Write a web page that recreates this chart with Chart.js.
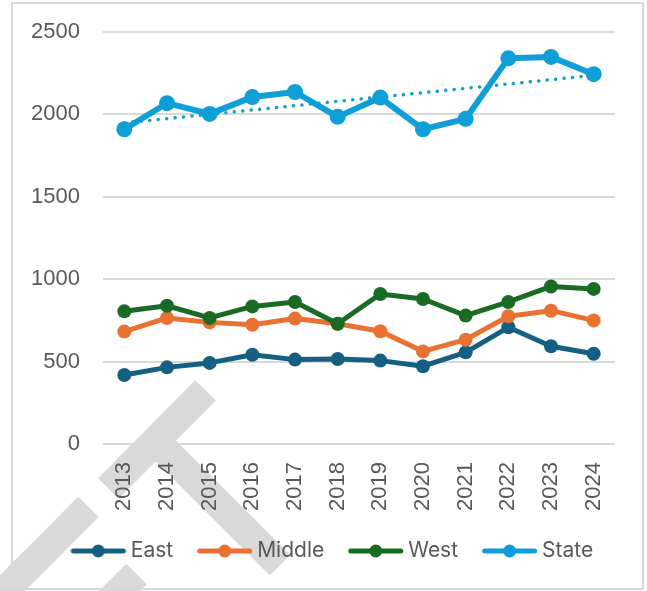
<!DOCTYPE html>
<html>
<head>
<meta charset="utf-8">
<script src="https://cdn.jsdelivr.net/npm/chart.js@4"></script>
<style>
  html, body { margin: 0; padding: 0; background: #ffffff; }
  #wrap { position: relative; width: 647px; height: 591px; overflow: hidden; background: #ffffff; }
  .wm { position: absolute; background: #d9d9d9; transform-origin: 50% 50%; z-index: 0; }
  #chart { position: absolute; left: 0; top: 0; z-index: 1; }
  #frame { position: absolute; left: 11px; top: 2px; width: 633px; height: 588px; box-sizing: border-box;
           border: 2px solid #d9d9d9; z-index: 2; pointer-events: none; }
</style>
</head>
<body>
<div id="wrap">
  <div id="frame"></div>
  <canvas id="chart" width="647" height="591"></canvas>
</div>
<script>
// ---- data ----
const categories = ['2013','2014','2015','2016','2017','2018','2019','2020','2021','2022','2023','2024'];
const eastValues   = [419, 465, 492, 542, 512, 516, 506, 472, 556, 708, 593, 548];
const middleValues = [682, 765, 738, 724, 761, 730, 684, 562, 633, 775, 809, 750];
const westValues   = [805, 839, 765, 835, 862, 730, 910, 880, 779, 862, 956, 941];
const stateValues  = [1910, 2068, 2003, 2105, 2136, 1985, 2102, 1910, 1973, 2340, 2349, 2244];
const stateTrendEnds = [1948, 2237];          // linear trendline, first and last category
const yTickValues = [0, 500, 1000, 1500, 2000, 2500];
const seriesNames = ['East', 'Middle', 'West', 'State'];

// ---- styles ----
const colors = { East: '#156082', Middle: '#E97132', West: '#196B24', State: '#0F9ED5' };

// faint watermark strokes behind the chart (decoration, not data)
const watermark = [
  { x1: 108, y1: 488, x2: 205, y2: 390, t: 29 },
  { x1: 155, y1: 440, x2: 280, y2: 565, t: 29 },
  { x1: -25, y1: 620, x2: 88,  y2: 507, t: 29 },
  { x1: 95,  y1: 615, x2: 136, y2: 574, t: 29 }
];
const wrap = document.getElementById('wrap');
watermark.forEach(b => {
  const len = Math.hypot(b.x2 - b.x1, b.y2 - b.y1);
  const cx = (b.x1 + b.x2) / 2, cy = (b.y1 + b.y2) / 2;
  const ang = Math.atan2(b.y2 - b.y1, b.x2 - b.x1) * 180 / Math.PI;
  const d = document.createElement('div');
  d.className = 'wm';
  d.style.width = len + 'px';
  d.style.height = b.t + 'px';
  d.style.left = (cx - len / 2) + 'px';
  d.style.top = (cy - b.t / 2) + 'px';
  d.style.transform = 'rotate(' + ang + 'deg)';
  wrap.insertBefore(d, wrap.firstChild);
});

function legendIcon(color) {
  const c = document.createElement('canvas');
  c.width = 62; c.height = 16;
  const g = c.getContext('2d');
  g.strokeStyle = color; g.lineWidth = 5; g.lineCap = 'round';
  g.beginPath(); g.moveTo(8.75, 8); g.lineTo(58.75, 8); g.stroke();
  g.fillStyle = color;
  g.beginPath(); g.arc(33.75, 8, 6.5, 0, Math.PI * 2); g.fill();
  return c;
}

function lineDataset(name, values, width, radius) {
  return {
    label: name,
    data: values,
    yAxisID: 'y',
    borderColor: colors[name],
    backgroundColor: colors[name],
    borderWidth: width,
    pointRadius: radius,
    pointHoverRadius: radius,
    pointBorderWidth: 0,
    pointBackgroundColor: colors[name],
    borderJoinStyle: 'round',
    borderCapStyle: 'round',
    tension: 0,
    fill: false
  };
}

const trendData = categories.map((c, i) =>
  i === 0 ? stateTrendEnds[0] : (i === categories.length - 1 ? stateTrendEnds[1] : null));

const datasets = [
  lineDataset('State', stateValues, 6, 8),
  lineDataset('West', westValues, 5, 7),
  lineDataset('Middle', middleValues, 5, 7),
  lineDataset('East', eastValues, 5, 7),
  {
    label: 'Linear (State)',
    data: trendData,
    yAxisID: 'y',
    spanGaps: true,
    borderColor: colors.State,
    borderWidth: 3.5,
    borderDash: [0.1, 8.4],
    borderCapStyle: 'round',
    pointRadius: 0,
    pointHoverRadius: 0,
    fill: false
  }
];

const tickFont = { family: 'Liberation Sans', size: 22 };
const noPad = (axis) => { axis.paddingTop = 0; axis.paddingBottom = 0; };

new Chart(document.getElementById('chart'), {
  type: 'line',
  data: { labels: categories, datasets: datasets },
  options: {
    responsive: false,
    devicePixelRatio: 1,
    animation: false,
    layout: { padding: { left: 31, right: 14, top: 32, bottom: 19.5 } },
    scales: {
      x: {
        offset: true,
        grid: { display: false, drawTicks: false },
        border: { display: false },
        ticks: { minRotation: 90, maxRotation: 90, padding: 18, color: '#595959', font: tickFont, autoSkip: false },
        afterFit: (axis) => { axis.height = 72.5; axis.paddingTop = 0; }
      },
      y: {
        position: 'left',
        min: yTickValues[0],
        max: yTickValues[yTickValues.length - 1],
        afterBuildTicks: (axis) => { axis.ticks = yTickValues.map(v => ({ value: v })); },
        grid: { color: '#d9d9d9', lineWidth: 2, drawTicks: false },
        border: { display: false },
        ticks: { padding: 23, color: '#595959', font: tickFont, callback: (v) => String(v) },
        afterFit: (axis) => { axis.width = 72; noPad(axis); }
      },
      y2: {
        position: 'right',
        display: true,
        grid: { display: false, drawTicks: false },
        border: { display: false },
        ticks: { display: false },
        afterFit: (axis) => { axis.width = 18; noPad(axis); }
      }
    },
    plugins: {
      tooltip: { enabled: false },
      legend: {
        position: 'bottom',
        labels: {
          usePointStyle: true,
          pointStyleWidth: 49.5,
          padding: 24,
          color: '#595959',
          font: { family: 'Inter', size: 21 },
          generateLabels: (chart) => {
            return seriesNames.map(name => {
              const idx = chart.data.datasets.findIndex(d => d.label === name);
              return {
                text: name,
                datasetIndex: idx,
                fontColor: '#595959',
                fillStyle: colors[name],
                strokeStyle: colors[name],
                lineWidth: 0,
                hidden: false,
                pointStyle: legendIcon(colors[name])
              };
            });
          }
        }
      }
    }
  }
});
</script>
</body>
</html>
